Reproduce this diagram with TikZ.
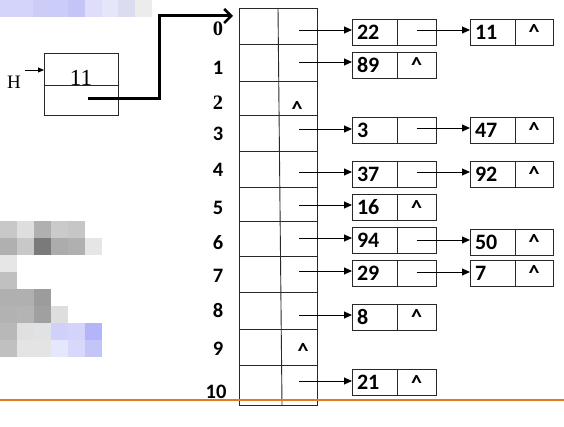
\documentclass[tikz,border=0pt]{standalone}
\usepackage{fontspec}
\setmainfont{Carlito}
\newfontfamily\tnr{Liberation Serif}
\usetikzlibrary{arrows.meta}
\definecolor{orng}{RGB}{224,124,34}
\definecolor{lnc}{RGB}{40,40,40}
\begin{document}
\begin{tikzpicture}[x=1pt,y=-1pt,
  tline/.style={draw=lnc, line width=0.9pt},
  bigfont/.style={font=\bfseries\fontsize{22}{22}\selectfont},
  idxfont/.style={font=\bfseries\fontsize{20.5}{20.5}\selectfont},
  cell/.style={draw=lnc, line width=0.9pt, minimum height=26pt, inner ysep=0pt, outer sep=0pt, anchor=west, bigfont},
  dcell/.style={cell, inner xsep=5pt, text width=35pt, align=left},
  pcell/.style={cell, inner xsep=0pt, minimum width=#1},
  pcell/.default=39pt,
  ptr/.style={draw=black, line width=0.9pt, -{Triangle[length=8pt,width=7pt]}},
  idx/.style={idxfont, inner sep=0pt},
  nil/.style={bigfont, inner sep=0pt}
]
\useasboundingbox (0,0) rectangle (564,427);
% mosaic artefacts
\fill[color={rgb,255:red,212;green,212;blue,250}] (0,0) rectangle (33,17);
\fill[color={rgb,255:red,204;green,204;blue,248}] (33,0) rectangle (68,17);
\fill[color={rgb,255:red,196;green,196;blue,246}] (68,0) rectangle (85,17);
\fill[color={rgb,255:red,222;green,222;blue,250}] (85,0) rectangle (102,17);
\fill[color={rgb,255:red,230;green,230;blue,250}] (102,0) rectangle (118,17);
\fill[color={rgb,255:red,220;green,220;blue,240}] (118,0) rectangle (135,17);
\fill[color={rgb,255:red,236;green,236;blue,236}] (135,0) rectangle (152,17);
%
\fill[color={rgb,255:red,200;green,200;blue,200}] (0,221) rectangle (17,238);
\fill[color={rgb,255:red,222;green,222;blue,222}] (17,221) rectangle (34,238);
\fill[color={rgb,255:red,176;green,176;blue,176}] (34,221) rectangle (51,238);
\fill[color={rgb,255:red,202;green,202;blue,202}] (51,221) rectangle (68,238);
\fill[color={rgb,255:red,198;green,198;blue,198}] (68,221) rectangle (85,238);
\fill[color={rgb,255:red,176;green,176;blue,176}] (0,238) rectangle (17,255);
\fill[color={rgb,255:red,200;green,200;blue,200}] (17,238) rectangle (34,255);
\fill[color={rgb,255:red,122;green,122;blue,122}] (34,238) rectangle (51,255);
\fill[color={rgb,255:red,172;green,172;blue,172}] (51,238) rectangle (68,255);
\fill[color={rgb,255:red,176;green,176;blue,176}] (68,238) rectangle (85,255);
\fill[color={rgb,255:red,230;green,230;blue,230}] (85,238) rectangle (102,255);
\fill[color={rgb,255:red,230;green,230;blue,230}] (0,255) rectangle (17,272);
\fill[color={rgb,255:red,192;green,192;blue,192}] (0,272) rectangle (17,289);
\fill[color={rgb,255:red,176;green,176;blue,176}] (0,289) rectangle (34,306);
\fill[color={rgb,255:red,156;green,156;blue,156}] (34,289) rectangle (51,306);
\fill[color={rgb,255:red,178;green,178;blue,178}] (0,306) rectangle (17,323);
\fill[color={rgb,255:red,180;green,180;blue,180}] (17,306) rectangle (34,323);
\fill[color={rgb,255:red,160;green,160;blue,160}] (34,306) rectangle (51,323);
\fill[color={rgb,255:red,222;green,222;blue,222}] (51,306) rectangle (68,323);
\fill[color={rgb,255:red,184;green,184;blue,184}] (0,323) rectangle (17,340);
\fill[color={rgb,255:red,224;green,224;blue,224}] (17,323) rectangle (34,340);
\fill[color={rgb,255:red,224;green,226;blue,228}] (34,323) rectangle (51,340);
\fill[color={rgb,255:red,208;green,208;blue,250}] (51,323) rectangle (68,340);
\fill[color={rgb,255:red,212;green,212;blue,250}] (68,323) rectangle (85,340);
\fill[color={rgb,255:red,180;green,180;blue,250}] (85,323) rectangle (102,340);
\fill[color={rgb,255:red,192;green,192;blue,192}] (0,340) rectangle (17,357);
\fill[color={rgb,255:red,228;green,228;blue,228}] (17,340) rectangle (51,357);
\fill[color={rgb,255:red,230;green,230;blue,252}] (51,340) rectangle (68,357);
\fill[color={rgb,255:red,216;green,216;blue,250}] (68,340) rectangle (85,357);
\fill[color={rgb,255:red,196;green,196;blue,248}] (85,340) rectangle (102,357);

% head box
\node[draw=lnc, line width=0.9pt, minimum width=74pt, minimum height=32pt, inner sep=0pt, anchor=north west] (htop) at (44,53) {};
\node[draw=lnc, line width=0.9pt, minimum width=74pt, minimum height=30pt, inner sep=0pt, anchor=north west] (hbot) at (44,85) {};
\node[font=\tnr\fontsize{23}{23}\selectfont, inner sep=0pt, anchor=base] (hval) at (81,85.5) {11};
\node[font=\tnr\fontsize{19}{19}\selectfont, inner sep=0pt, anchor=base] (hlab) at (14,89) {H};
\coordinate (harr) at (25,70);
\draw[draw=black, line width=0.8pt, -{Triangle[length=6pt,width=5pt]}] (harr) -- (harr -| htop.west);
\coordinate (hstart) at (88,99);
\coordinate (bend) at (159,16);
\coordinate (ttip) at (233,16);
\draw[line width=3pt, -{Straight Barb[length=7pt,width=14pt,line width=2.5pt]}] (hstart) -| (bend) -- (ttip);

% table
\draw[tline] (239,8) rectangle (317,405);
\draw[tline] (278,8) -- (282,405);
\foreach \yy in {44,81,115,151,187,221,256,292,329,365}
  \draw[tline] (239,\yy) -- (317,\yy);

% indices
\node[idx, font=\tnr\bfseries\fontsize{20.5}{20.5}\selectfont] (i0) at (218,28.5) {0};
\node[idx] (i1) at (218,68) {1};
\node[idx, font=\tnr\bfseries\fontsize{20.5}{20.5}\selectfont] (i2) at (218,102.5) {2};
\node[idx] (i3) at (218,134) {3};
\node[idx] (i4) at (218,170) {4};
\node[idx] (i5) at (218,208) {5};
\node[idx] (i6) at (218,243) {6};
\node[idx] (i7) at (218,276) {7};
\node[idx] (i8) at (218,310.5) {8};
\node[idx] (i9) at (218,348.5) {9};
\node[idx] (i10) at (216,391.5) {10};

% nil markers in table
\node[nil] (t2) at (297,109) {\textasciicircum};
\node[nil] (t9) at (303,351) {\textasciicircum};

% first-level list nodes
\node[dcell] (a0) at (352,32) {22};   \node[pcell] (b0) at (a0.east) {};
\node[dcell] (a1) at (352,65) {89};   \node[pcell] (b1) at (a1.east) {\textasciicircum};
\node[dcell] (a3) at (352,130) {3};   \node[pcell] (b3) at (a3.east) {};
\node[dcell] (a4) at (352,174) {37};  \node[pcell] (b4) at (a4.east) {};
\node[dcell] (a5) at (352,207.5) {16};\node[pcell] (b5) at (a5.east) {\textasciicircum};
\node[dcell] (a6) at (352,240.5) {94};\node[pcell] (b6) at (a6.east) {};
\node[dcell] (a7) at (352,273) {29};  \node[pcell] (b7) at (a7.east) {};
\node[dcell] (a8) at (352,317) {8};   \node[pcell] (b8) at (a8.east) {\textasciicircum};
\node[dcell] (a10) at (352,382.5) {21};\node[pcell] (b10) at (a10.east) {\textasciicircum};

% second-level list nodes
\node[dcell] (c0) at (470,32) {11};  \node[pcell=38pt] (d0) at (c0.east) {\textasciicircum};
\node[dcell] (c3) at (470,130) {47}; \node[pcell=38pt] (d3) at (c3.east) {\textasciicircum};
\node[dcell] (c4) at (470,174) {92}; \node[pcell=38pt] (d4) at (c4.east) {\textasciicircum};
\node[dcell] (c6) at (470,242) {50}; \node[pcell=38pt] (d6) at (c6.east) {\textasciicircum};
\node[dcell] (c7) at (470,273) {7};  \node[pcell=38pt] (d7) at (c7.east) {\textasciicircum};

% pointers from table
\foreach \r/\yy in {0/30,1/62,3/129,4/172,5/205,6/238,7/271,8/315,10/381}{
  \coordinate (p\r) at (299,\yy);
  \draw[ptr] (p\r) -- (p\r -| a\r.west);
}
% pointers between list nodes
\foreach \r/\yy in {0/30,3/128,4/172,6/240,7/272}{
  \coordinate (q\r) at (417,\yy);
  \draw[ptr] (q\r) -- (q\r -| c\r.west);
}

% orange rule
\coordinate (oL) at (0,400);
\coordinate (oR) at (564,400);
\draw[orng, line width=1.8pt] (oL) -- (oR);
\end{tikzpicture}
\end{document}
